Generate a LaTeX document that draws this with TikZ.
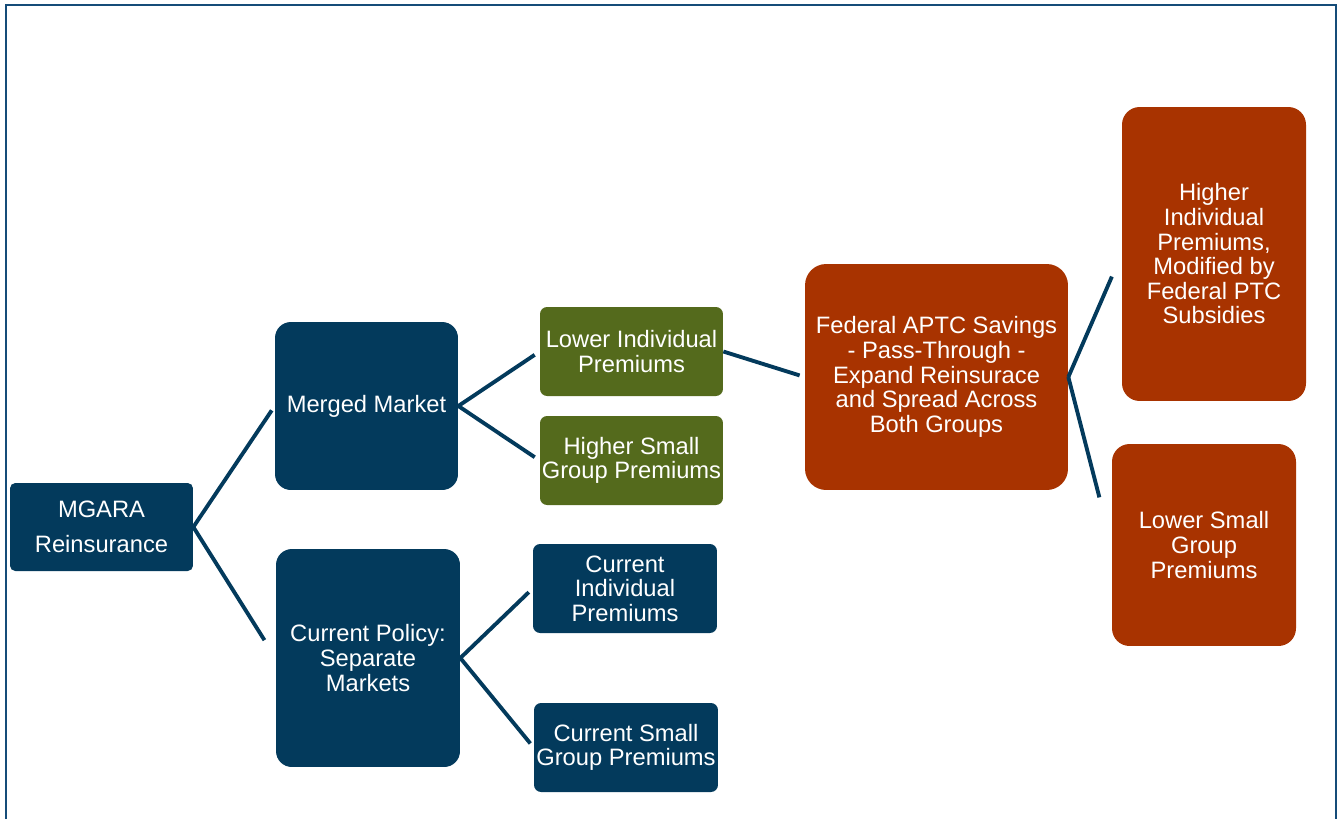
\documentclass[tikz,border=0pt]{standalone}
\usepackage{fontspec}
\setmainfont{Liberation Sans}
\usepackage{tikz}

\definecolor{navy}{HTML}{033A5C}
\definecolor{olive}{HTML}{546A1C}
\definecolor{rust}{HTML}{A83300}
\definecolor{frame}{HTML}{154C79}

\begin{document}
\begin{tikzpicture}[x=0.02cm, y=-0.02cm,
	box/.style={fill=navy, text=white, align=center, inner sep=0pt,
		font=\fontsize{13.5}{14}\selectfont, rounded corners=6pt},
	bigbox/.style={box, rounded corners=9pt},
	greenbox/.style={box, fill=olive, rounded corners=4pt},
	redbox/.style={box, fill=rust, rounded corners=10pt},
	link/.style={draw=navy, line width=2.2pt}]
	\useasboundingbox (0,0) rectangle (1338,819);
	\draw [frame, line width=1.6pt] (6,819) -- (6,5) -- (1336,5) -- (1336,819);

	\node [box, rounded corners=3pt, minimum width=3.66cm, minimum height=1.76cm] (MGARA) at (101.5,527) {MGARA\\[6pt]Reinsurance};
	\node [bigbox, minimum width=3.66cm, minimum height=3.36cm] (Merged) at (366.5,406) {Merged Market};
	\node [bigbox, minimum width=3.68cm, minimum height=4.36cm] (Current) at (368,658) {Current Policy:\\Separate\\Markets};

	\node [greenbox, minimum width=3.66cm, minimum height=1.78cm] (LowInd) at (631.5,351.5) {Lower Individual\\Premiums};
	\node [greenbox, minimum width=3.66cm, minimum height=1.78cm] (HighSG) at (631.5,460.5) {Higher Small\\Group Premiums};
	\node [box, rounded corners=4pt, minimum width=3.68cm, minimum height=1.78cm] (CurInd) at (625,588.5) {Current\\Individual\\Premiums};
	\node [box, rounded corners=4pt, minimum width=3.68cm, minimum height=1.78cm] (CurSG) at (626,747.5) {Current Small\\Group Premiums};

	\node [redbox, rounded corners=12pt, minimum width=5.26cm, minimum height=4.52cm] (APTC) at (936.5,377) {Federal APTC Savings\\- Pass-Through -\\Expand Reinsurace\\and Spread Across\\Both Groups};
	\node [redbox, minimum width=3.68cm, minimum height=5.88cm] (HighInd) at (1214,254) {Higher\\Individual\\Premiums,\\Modified by\\Federal PTC\\Subsidies};
	\node [redbox, minimum width=3.68cm, minimum height=4.04cm] (LowSG) at (1204,545) {Lower Small\\Group\\Premiums};

	% links
	\draw [link, shorten >=3pt] (MGARA.east) -- (Merged.west);
	\draw [link, shorten >=12pt] (MGARA.east) -- (Current.west);
	\draw [link, shorten >=3.4pt] (Merged.east) -- (LowInd.west);
	\draw [link, shorten >=3.4pt] (Merged.east) -- (HighSG.west);
	\draw [link, shorten >=3pt] (Current.east) -- (CurInd.west);
	\draw [link, shorten >=3pt] (Current.east) -- (CurSG.west);
	\draw [link, shorten >=3pt] (LowInd.east) -- (APTC.west);
	\draw [link, shorten >=14pt] (APTC.east) -- (HighInd.west);
	\draw [link, shorten >=28pt] (APTC.east) -- (LowSG.west);
\end{tikzpicture}
\end{document}
